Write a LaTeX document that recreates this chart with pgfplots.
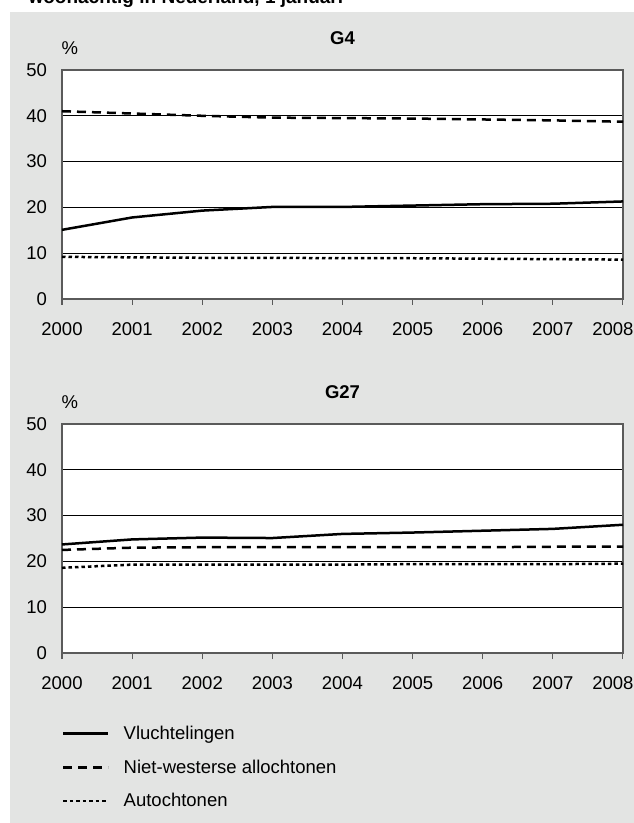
\documentclass[border=0pt]{standalone}
\usepackage{fontspec}
\setmainfont{Liberation Sans}
\usepackage{pgfplots}
\pgfplotsset{compat=1.18}

\definecolor{bg}{RGB}{227,228,227}
\definecolor{frame}{RGB}{90,90,90}

\pgfplotsset{
  panel/.style={
    anchor=south west,
    scale only axis,
    clip=false,
    width=561pt, height=229pt,
    xmin=2000, xmax=2008,
    ymin=0, ymax=50,
    xtick={2000,...,2008},
    xticklabels={2000,2001,2002,2003,2004,2005,2006,2007,{\kern-20pt 2008}},
    ytick={0,10,...,50},
    /pgf/number format/assume math mode=true,
    ymajorgrids,
    major grid style={black, line width=0.9pt},
    axis line style={frame, line width=1.3pt},
    axis background/.style={fill=white},
    tick align=outside,
    xtick pos=bottom,
    ytick style={draw=none},
    xtick style={frame, line width=1.1pt},
    major tick length=6pt,
    yticklabel style={inner sep=0pt, xshift=-9pt},
    xticklabel style={inner sep=0pt, yshift=-17pt},
    title style={font=\fontsize{18.5}{22}\selectfont\bfseries, at={(0.5,1.115)}, anchor=center},
    every axis plot/.append style={black, line width=2.5pt},
  },
  ref/.style={solid},
  nw/.style={dash pattern=on 9pt off 6pt},
  au/.style={dash pattern=on 3.5pt off 3pt},
}

\begin{document}
\begin{tikzpicture}[font=\fontsize{18.5}{22}\selectfont]
\useasboundingbox (0pt,0pt) rectangle (634pt,823pt);
\fill[bg] (10pt,0pt) rectangle (634pt,811pt);
\node[anchor=base west, font=\fontsize{19}{22}\selectfont\bfseries] at (25pt,819pt) {woonachtig in Nederland, 1 januari};

% G4
\begin{axis}[panel, at={(62pt,524pt)}, title={G4}]
\addplot[ref] coordinates {(2000,15.1) (2001,17.8) (2002,19.3) (2003,20.1) (2004,20.1) (2005,20.4) (2006,20.7) (2007,20.8) (2008,21.3)};
\addplot[nw] coordinates {(2000,41.0) (2001,40.5) (2002,40.0) (2003,39.6) (2004,39.5) (2005,39.4) (2006,39.2) (2007,39.0) (2008,38.7)};
\addplot[au] coordinates {(2000,9.2) (2001,9.1) (2002,9.0) (2003,9.0) (2004,8.9) (2005,8.9) (2006,8.8) (2007,8.7) (2008,8.6)};
\node at (rel axis cs:0.014,1.095) {\%};
\end{axis}

% G27
\begin{axis}[panel, at={(62pt,170pt)}, title={G27},
  legend style={at={(0,-0.28)}, anchor=north west, draw=none, fill=none,
    inner sep=0pt, column sep=14pt, row sep=10pt,
    nodes={inner sep=0pt, anchor=west}},
  legend cell align=left,
  legend image code/.code={\path (0pt,15pt); \draw[#1] (0pt,0pt) -- (45pt,0pt);},
]
\addplot[ref] coordinates {(2000,23.7) (2001,24.8) (2002,25.2) (2003,25.1) (2004,26.0) (2005,26.3) (2006,26.7) (2007,27.1) (2008,28.0)};
\addplot[nw] coordinates {(2000,22.5) (2001,23.0) (2002,23.1) (2003,23.1) (2004,23.1) (2005,23.1) (2006,23.1) (2007,23.2) (2008,23.2)};
\addplot[au] coordinates {(2000,18.6) (2001,19.3) (2002,19.3) (2003,19.3) (2004,19.3) (2005,19.4) (2006,19.4) (2007,19.4) (2008,19.5)};
\node at (rel axis cs:0.014,1.095) {\%};
\legend{Vluchtelingen, Niet-westerse allochtonen, Autochtonen}
\end{axis}
\end{tikzpicture}
\end{document}
